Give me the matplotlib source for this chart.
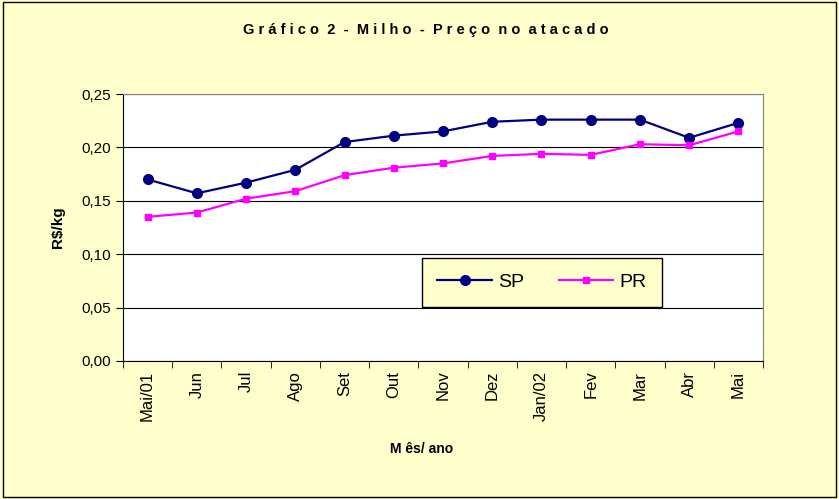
import matplotlib.pyplot as plt
import numpy as np
from matplotlib.patches import Rectangle

meses = ["Mai/01", "Jun", "Jul", "Ago", "Set", "Out", "Nov", "Dez", "Jan/02", "Fev", "Mar", "Abr", "Mai"]
sp = [0.170, 0.157, 0.167, 0.179, 0.205, 0.211, 0.215, 0.224, 0.226, 0.226, 0.226, 0.209, 0.223]
pr = [0.135, 0.139, 0.152, 0.159, 0.174, 0.181, 0.185, 0.192, 0.194, 0.193, 0.203, 0.202, 0.215]

plt.rcParams["font.family"] = ["Liberation Sans", "DejaVu Sans"]

fig = plt.figure(figsize=(8.39, 4.99), dpi=100)
fig.patch.set_facecolor("#FFFFCC")
fig.patches.append(Rectangle((0.003, 0.004), 0.994, 0.992, transform=fig.transFigure,
                             fill=False, edgecolor="black", linewidth=1))

ax = fig.add_axes([0.1466, 0.2766, 0.7628, 0.535])
ax.set_facecolor("white")
x = np.arange(len(meses))

ax.plot(x, sp, color="#000080", marker="o", markersize=7, linewidth=1.6, label="SP")
ax.plot(x, pr, color="#FF00FF", marker="s", markersize=5, linewidth=1.6, label="PR")

ax.set_xlim(-0.5, len(meses) - 0.5)
ax.set_ylim(0, 0.25)
ax.set_yticks(np.arange(0, 0.26, 0.05))
ax.set_yticklabels(["0,00", "0,05", "0,10", "0,15", "0,20", "0,25"], fontsize=11)
ax.yaxis.grid(True, color="black", linewidth=0.8)
ax.set_axisbelow(True)

ax.set_xticks(x)
ax.set_xticklabels(meses, rotation=90, fontsize=12)
ax.tick_params(axis="x", which="major", length=0, pad=7)
ax.set_xticks(np.arange(-0.5, len(meses), 1), minor=True)
ax.tick_params(axis="x", which="minor", length=5, direction="out")
ax.tick_params(axis="y", length=5, direction="out")

for s in ["top", "right"]:
    ax.spines[s].set_color("gray")
for s in ["left", "bottom"]:
    ax.spines[s].set_color("black")

ax.set_ylabel("R$/kg", fontsize=11, fontweight="bold", labelpad=12)
fig.text(0.502, 0.092, "M ês/ ano", ha="center", fontsize=10, fontweight="bold")
fig.text(0.507, 0.932, "G r á f i c o  2  -  M i l h o  -  P r e ç o  n o  a t a c a d o",
         ha="center", fontsize=10.5, fontweight="bold")

leg = ax.legend(loc="upper left", bbox_to_anchor=(0.467, 0.386), ncol=2, fontsize=14,
                frameon=True, fancybox=False, handlelength=2.8, columnspacing=1.8,
                borderpad=0.8, handletextpad=0.3, borderaxespad=0)
leg.get_frame().set_facecolor("#FFFFCC")
leg.get_frame().set_edgecolor("black")
leg.get_frame().set_alpha(1)

fig.savefig("out.png", dpi=100, facecolor=fig.get_facecolor())
